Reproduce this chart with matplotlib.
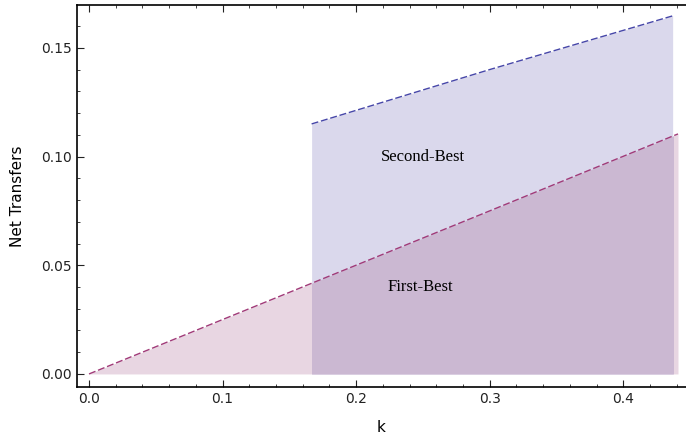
import matplotlib.pyplot as plt
from matplotlib.patches import Rectangle
from matplotlib.ticker import MultipleLocator

# values
k_first = [0.0, 1/6, 0.30, 0.441]
first_best = [0.0, 0.0417, 0.075, 0.1104]
k_second = [1/6, 0.30, 0.437]
second_best = [0.115, 0.140, 0.1647]

pink_fill = '#e8d6e2'
lav_fill = '#dad8ec'
both_fill = '#cbb8d2'
pink_line = '#a03a78'
blue_line = '#4646a8'

fig = plt.figure(figsize=(6.86, 4.48), dpi=100)
ax = fig.add_axes([77/686, 61/448, 1 - 77/686, 382/448])

ax.fill_between(k_first, first_best, 0, color=pink_fill, lw=0)
ax.fill_between(k_second, second_best, 0, color=lav_fill, lw=0)
# overlap region, clipped to the second-best range
overlap = ax.fill_between(k_first, first_best, 0, color=both_fill, lw=0)
clip = Rectangle((k_second[0], 0), k_second[-1] - k_second[0], 1,
                 transform=ax.transData, visible=False)
ax.add_patch(clip)
overlap.set_clip_path(clip)

ax.plot(k_first, first_best, color=pink_line, lw=1, dashes=(5, 2))
ax.plot(k_second, second_best, color=blue_line, lw=1, dashes=(5, 2))

ax.text(0.25, 0.100, 'Second-Best', family='Liberation Serif', fontsize=12,
        ha='center', va='center')
ax.text(0.248, 0.040, 'First-Best', family='Liberation Serif', fontsize=12,
        ha='center', va='center')

ax.set_xlim(-0.009, 0.447)
ax.set_ylim(-0.006, 0.1697)
ax.xaxis.set_major_locator(MultipleLocator(0.1))
ax.xaxis.set_minor_locator(MultipleLocator(0.02))
ax.yaxis.set_major_locator(MultipleLocator(0.05))
ax.yaxis.set_minor_locator(MultipleLocator(0.01))
ax.xaxis.set_major_formatter(plt.FuncFormatter(lambda v, p: f'{v:.1f}'))
ax.yaxis.set_major_formatter(plt.FuncFormatter(lambda v, p: f'{v:.2f}'))
ax.tick_params(which='both', direction='in', top=True, right=False,
               labelsize=10, colors='#222222')
ax.tick_params(which='major', length=5)
ax.tick_params(which='minor', length=2.5)
ax.spines['right'].set_visible(False)
for s in ('left', 'bottom', 'top'):
    ax.spines[s].set_linewidth(1.2)

ax.set_xlabel('k', fontsize=11, labelpad=10)
ax.set_ylabel('Net Transfers', fontsize=11, labelpad=12)

fig.savefig('out.png', dpi=100)
